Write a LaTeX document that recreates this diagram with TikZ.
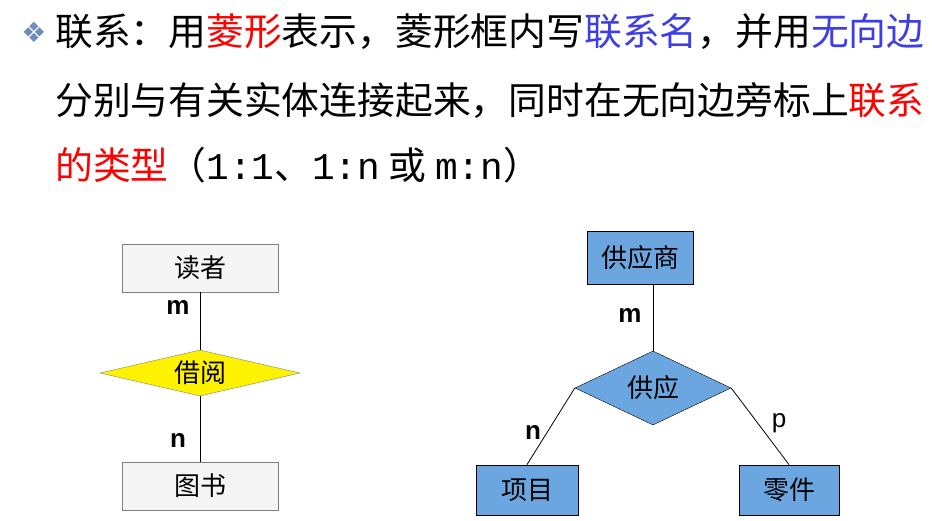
\documentclass[tikz,border=0pt]{standalone}
\usepackage{fontspec}
\setmainfont{Liberation Sans}
\newfontfamily\cjk{Noto Sans CJK SC}
\newfontfamily\sym{DejaVu Sans}
\newfontfamily\mono{Liberation Mono}
\usetikzlibrary{shapes.geometric}
\definecolor{myblue}{RGB}{62,62,230}
\definecolor{boxblue}{RGB}{108,166,224}
\definecolor{bul}{RGB}{110,140,190}
\tikzset{
 line/.style={font=\cjk\fontsize{37.8}{38}\selectfont,anchor=west,inner sep=0},
 ent/.style={draw=gray,fill=gray!8,minimum width=156pt,minimum height=48pt,font=\cjk\fontsize{26}{26}\selectfont,line width=0.8pt},
 bent/.style={draw=black,fill=boxblue,minimum width=102pt,minimum height=50pt,font=\cjk\fontsize{26}{26}\selectfont,line width=0.8pt},
 rel/.style={diamond,draw=black,aspect=4,inner sep=0,font=\cjk\fontsize{26}{26}\selectfont},
 lab/.style={font=\bfseries\fontsize{26}{26}\selectfont},
 conn/.style={draw=black,line width=0.8pt}
}
\begin{document}
\begin{tikzpicture}[x=1pt,y=-1pt]
\useasboundingbox (0,0) rectangle (932,521);
\node[font=\sym\fontsize{28}{28}\selectfont,text=bul] (b) at (34,32) {❖};
\node[line] (l1) at (55,32) {联系：用\textcolor{red}{菱形}表示，菱形框内写\textcolor{myblue}{联系名}，并用\textcolor{myblue}{无向边}};
\node[line] (l2) at (55,100) {分别与有关实体连接起来，同时在无向边旁标上\textcolor{red}{联系}};
\node[line] (l3) at (55,165) {\textcolor{red}{的类型}（{\mono 1:1}、{\mono 1:n} 或 {\mono m:n}）};
% left
\node[ent] (r) at (200,268) {读者};
\node[rel,fill=yellow,minimum width=200pt,minimum height=46pt,draw=gray] (j) at (200,373) {借阅};
\node[ent] (t) at (200,486) {图书};
\draw[conn] (r.south) -- (j.north);
\draw[conn] (j.south) -- (t.north);
\node[lab] (lm) at (178,307) {m};
\node[lab] (ln) at (178,440) {n};
% right
\node[bent,minimum width=106pt,minimum height=53pt] (s) at (640,258) {供应商};
\node[rel,fill=boxblue,minimum width=156pt,minimum height=74pt] (g) at (653,388) {供应};
\node[bent] (x) at (527,490) {项目};
\node[bent,minimum width=100pt] (z) at (789,490) {零件};
\draw[conn] (g.north) -- (g.north |- s.south);
\draw[conn] (g.west) -- (x.north);
\draw[conn] (g.east) -- (z.north);
\node[lab] (rm) at (630,315) {m};
\node[lab] (rn) at (533,432) {n};
\node[font=\fontsize{26}{26}\selectfont] (rp) at (779,423) {p};
\end{tikzpicture}
\end{document}
